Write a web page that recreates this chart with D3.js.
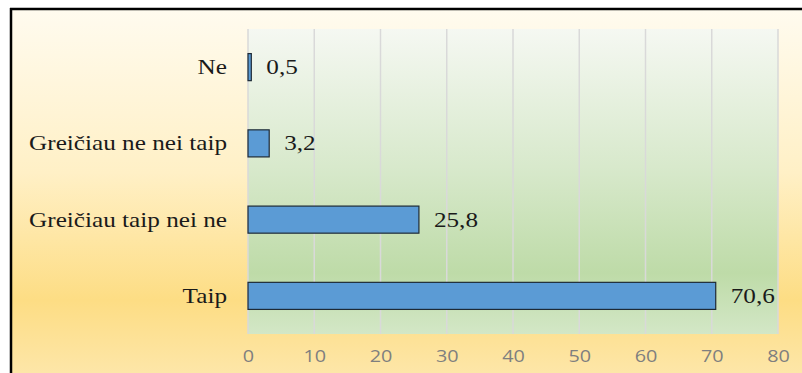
<!DOCTYPE html>
<html>
<head>
<meta charset="utf-8">
<script src="https://cdn.jsdelivr.net/npm/d3@7/dist/d3.min.js"></script>
<style>
  body { margin: 0; background: #fff; }
  svg { display: block; }
</style>
</head>
<body>
<script>
var categories = ["Ne", "Greičiau ne nei taip", "Greičiau taip nei ne", "Taip"];
var values = [0.5, 3.2, 25.8, 70.6];
var valueLabels = ["0,5", "3,2", "25,8", "70,6"];
var ticks = [0, 10, 20, 30, 40, 50, 60, 70, 80];

var W = 802, H = 373;
var margin = {left: 248, right: 24, top: 29, bottom: 39};
var width = W - margin.left - margin.right;
var height = H - margin.top - margin.bottom;
var serif = "'Liberation Serif', 'Times New Roman', serif";
var stretch = 1.2; // the original picture is widened a bit

var data = categories.map(function(c, i){ return {cat: c, val: values[i], label: valueLabels[i]}; });

var svg = d3.select("body").append("svg")
    .attr("width", W).attr("height", H);

var defs = svg.append("defs");
var outerGrad = defs.append("linearGradient")
    .attr("id", "outerGrad").attr("x1", 0).attr("y1", 0).attr("x2", 0).attr("y2", 1);
outerGrad.append("stop").attr("offset", "0%").attr("stop-color", "#fffbef");
outerGrad.append("stop").attr("offset", "45%").attr("stop-color", "#fff0c6");
outerGrad.append("stop").attr("offset", "80%").attr("stop-color", "#fddd84");
outerGrad.append("stop").attr("offset", "100%").attr("stop-color", "#fde6a8");

var plotGrad = defs.append("linearGradient")
    .attr("id", "plotGrad").attr("x1", 0).attr("y1", 0).attr("x2", 0).attr("y2", 1);
plotGrad.append("stop").attr("offset", "0%").attr("stop-color", "#f5f8f2");
plotGrad.append("stop").attr("offset", "45%").attr("stop-color", "#d8e9cc");
plotGrad.append("stop").attr("offset", "80%").attr("stop-color", "#bedba8");
plotGrad.append("stop").attr("offset", "100%").attr("stop-color", "#d3e7c6");

// background + frame
svg.append("rect")
    .attr("x", 11).attr("y", 9).attr("width", W - 11).attr("height", H - 9)
    .attr("fill", "url(#outerGrad)");
svg.append("line").attr("x1", 11).attr("x2", 11).attr("y1", 8).attr("y2", H)
    .attr("stroke", "#000").attr("stroke-width", 2.5);
svg.append("line").attr("x1", 10).attr("x2", W).attr("y1", 9).attr("y2", 9)
    .attr("stroke", "#000").attr("stroke-width", 2.5);

var x = d3.scaleLinear().domain([0, 80]).range([0, width]);
var y = d3.scaleBand().domain(categories).range([0, height]).paddingInner(0.645).paddingOuter(0.3225);

var chartGroup = svg.append("g")
    .attr("transform", "translate(" + margin.left + "," + margin.top + ")");

chartGroup.append("rect")
    .attr("width", width).attr("height", height)
    .attr("fill", "url(#plotGrad)");

chartGroup.selectAll(".grid").data(ticks)
    .enter().append("line")
    .attr("class", "grid")
    .attr("x1", function(d){ return x(d); })
    .attr("x2", function(d){ return x(d); })
    .attr("y1", 0).attr("y2", height)
    .attr("stroke", "#d9d9d9").attr("stroke-width", 1.5);

chartGroup.selectAll(".bar").data(data)
    .enter().append("rect")
    .attr("class", "bar")
    .attr("x", x(0))
    .attr("y", function(d){ return y(d.cat); })
    .attr("width", function(d){ return x(d.val); })
    .attr("height", y.bandwidth())
    .attr("fill", "#5b9bd5")
    .attr("stroke", "#1e2a36").attr("stroke-width", 1.2);

chartGroup.selectAll(".val").data(data)
    .enter().append("text")
    .attr("class", "val")
    .attr("transform", function(d){
        return "translate(" + (x(d.val) + 15) + "," + (y(d.cat) + y.bandwidth() / 2) + ") scale(" + stretch + ",1)";
    })
    .attr("dy", "0.33em")
    .style("font-family", serif)
    .style("font-size", "21px")
    .attr("fill", "#1a1a1a")
    .text(function(d){ return d.label; });

chartGroup.selectAll(".cat").data(data)
    .enter().append("text")
    .attr("class", "cat")
    .attr("transform", function(d){
        return "translate(-21," + (y(d.cat) + y.bandwidth() / 2) + ") scale(" + stretch + ",1)";
    })
    .attr("dy", "0.33em")
    .attr("text-anchor", "end")
    .style("font-family", serif)
    .style("font-size", "21px")
    .attr("fill", "#1a1a1a")
    .text(function(d){ return d.cat; });

var xAxis = d3.axisBottom(x).tickValues(ticks).tickSize(0).tickPadding(16.5);
var gx = chartGroup.append("g")
    .attr("transform", "translate(0," + height + ")")
    .call(xAxis);
gx.select(".domain").remove();
gx.selectAll("text")
    .attr("transform", "scale(" + stretch + ",1)")
    .style("font-family", "'Open Sans', sans-serif")
    .style("font-size", "16.5px")
    .attr("fill", "#7f7f7f");
</script>
</body>
</html>
